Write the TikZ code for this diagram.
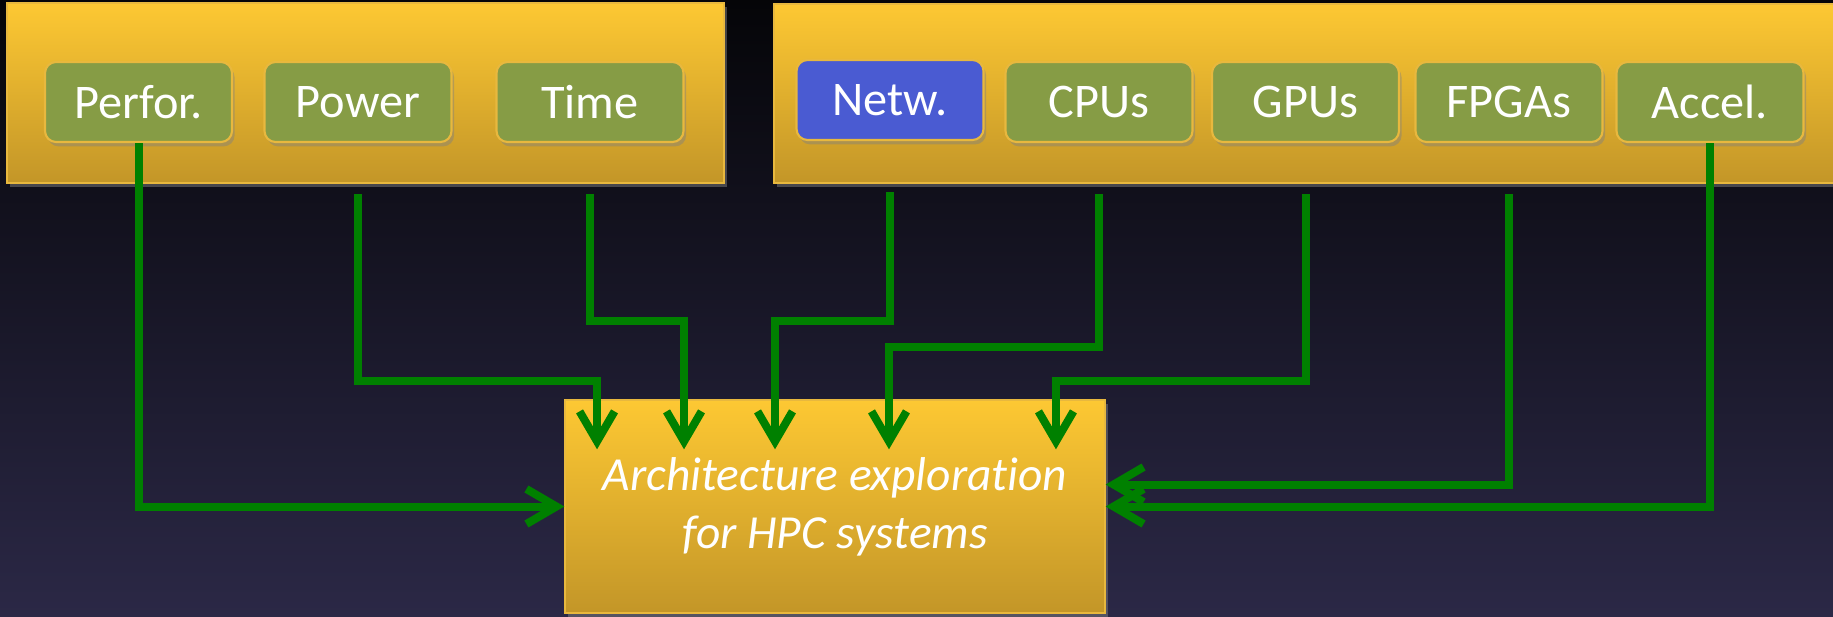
\documentclass[tikz,border=0pt]{standalone}
\usepackage{fontspec}
\setmainfont{Carlito}[Ligatures={TeX,NoCommon}]
\usetikzlibrary{arrows.meta,shadows}

\definecolor{bgtop}{HTML}{050508}
\definecolor{bgbot}{HTML}{2B2846}
\definecolor{goldtop}{HTML}{FDC833}
\definecolor{goldbot}{HTML}{C39628}
\definecolor{goldedge}{HTML}{E8B83E}
\definecolor{olive}{HTML}{869C45}
\definecolor{netblue}{HTML}{4A5BD2}
\definecolor{wire}{HTML}{008000}

\begin{document}
\begin{tikzpicture}[x=0.02cm,y=-0.02cm,
  panel/.style={draw=goldedge, line width=0.8pt, top color=goldtop, bottom color=goldbot,
    inner sep=0pt, drop shadow={shadow xshift=1.5pt, shadow yshift=-2pt, opacity=0.5}},
  tag/.style={draw=goldedge, line width=1.2pt, fill=olive, rounded corners=0.22cm,
    minimum width=3.74cm, minimum height=1.6cm, inner sep=0pt, text=white,
    font=\fontsize{27.5}{32}\selectfont,
    drop shadow={shadow xshift=1.5pt, shadow yshift=-2.5pt, opacity=0.45}},
  wire/.style={draw=wire, line width=0.16cm,
    -{Straight Barb[length=0.6cm,width=0.7cm]}}]

% page and background
\useasboundingbox (0,0) rectangle (1833,616);
\shade[top color=bgtop, bottom color=bgbot] (0,0) rectangle (1833,616);

% group panels
\node[panel, minimum width=14.34cm, minimum height=3.6cm] (metrics) at (365.5,93) {};
\node[panel, minimum width=21.38cm, minimum height=3.58cm] (hw) at (1308.5,93.5) {};

% metric tags
\node[tag] (perf)  at (138.5,102) {Perfor.};
\node[tag] (power) at (358,102)   {Power};
\node[tag] (time)  at (590,102)   {Time};

% hardware tags
\node[tag, fill=netblue] (netw) at (890,100) {Netw.};
\node[tag] (cpus)  at (1099,102)  {CPUs};
\node[tag] (gpus)  at (1305.5,102){GPUs};
\node[tag] (fpgas) at (1509,102)  {FPGAs};
\node[tag] (accel) at (1710,102)  {Accel.};

% target box
\node[panel, minimum width=10.8cm, minimum height=4.26cm, text=white, align=center,
      font=\itshape\fontsize{27}{33}\selectfont] (main) at (835,506.5)
      {Architecture exploration\\for HPC systems};

% wire start points just below the panels
\path (power.south) ++(0,51) coordinate (pwS);
\path (time.south)  ++(0,51) coordinate (tmS);
\path (netw.south)  ++(0,51) coordinate (nwS);
\path (cpus.south)  ++(0,51) coordinate (cpS);
\path (gpus.south)  ++(0,51) coordinate (gpS);
\path (fpgas.south) ++(0,51) coordinate (fpS);

% rows where the wires turn
\coordinate (rowA) at (0,321);
\coordinate (rowB) at (0,347);
\coordinate (rowC) at (0,381);

% entry points on the top edge of the target box
\coordinate (inPw) at ([xshift=-4.76cm,yshift=-1cm]main.north);
\coordinate (inTm) at ([xshift=-3.02cm,yshift=-1cm]main.north);
\coordinate (inNw) at ([xshift=-1.20cm,yshift=-1cm]main.north);
\coordinate (inCp) at ([xshift=1.08cm,yshift=-1cm]main.north);
\coordinate (inGp) at ([xshift=4.42cm,yshift=-1cm]main.north);

% connectors
\draw[wire] (perf.south) |- (main.west);
\draw[wire] (pwS) -- (pwS |- rowC) -| (inPw);
\draw[wire] (tmS) -- (tmS |- rowA) -| (inTm);
\draw[wire] (nwS) -- (nwS |- rowA) -| (inNw);
\draw[wire] (cpS) -- (cpS |- rowB) -| (inCp);
\draw[wire] (gpS) -- (gpS |- rowC) -| (inGp);
\draw[wire] (fpS) |- ([yshift=0.44cm]main.east);
\draw[wire] (accel.south) |- (main.east);
\end{tikzpicture}
\end{document}
